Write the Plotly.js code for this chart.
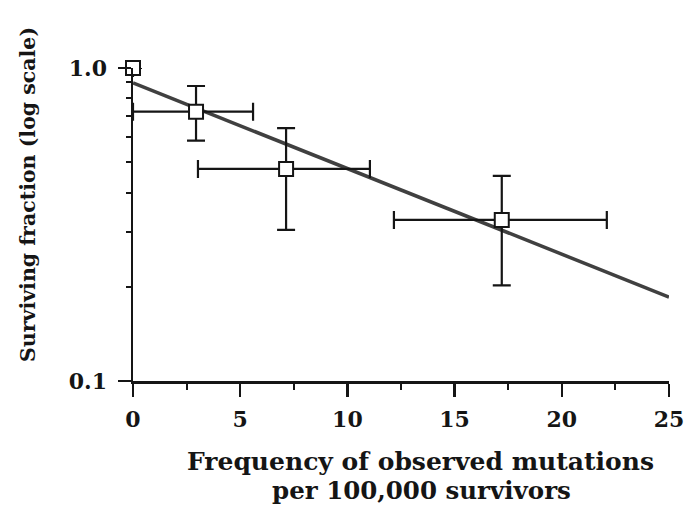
<!DOCTYPE html>
<html>
<head>
<meta charset="utf-8">
<script src="https://cdn.plot.ly/plotly-3.0.1.min.js"></script>
<style>html,body{margin:0;padding:0;background:#fff;}#chart{width:688px;height:515px;}</style>
</head>
<body>
<div id="chart"></div>
<script>
// Data
const mutationFreq   = [0, 2.94, 7.14, 17.2];
const survFraction   = [1.0, 0.725, 0.476, 0.327];
const xErrPlus       = [0, 2.66, 3.91, 4.9];
const xErrMinus      = [0, 2.94, 4.11, 5.03];
const yErrPlus       = [0, 0.151, 0.167, 0.125];
const yErrMinus      = [0, 0.139, 0.172, 0.125];
const fitX           = [0, 25];
const fitY           = [0.896, 0.1855];
const yTickVals      = [0.1, 1.0];
const yTickText      = ['0.1', '1.0'];
const yMinorVals     = [0.2, 0.3, 0.4, 0.5, 0.6, 0.7, 0.8, 0.9];
const xTickVals      = [0, 5, 10, 15, 20, 25];
const xTitleLines    = ['Frequency of observed mutations', 'per 100,000 survivors'];
const yTitle         = 'Surviving fraction (log scale)';

const serif = 'DejaVu Serif, Liberation Serif, serif';
const ink = '#151515';

const traces = [
  {
    x: fitX, y: fitY, mode: 'lines', type: 'scatter',
    line: {color: '#404040', width: 3.5}, hoverinfo: 'skip', cliponaxis: false
  },
  {
    x: mutationFreq, y: survFraction, mode: 'markers', type: 'scatter',
    cliponaxis: false,
    marker: {symbol: 'square', size: 14, color: 'white', line: {color: ink, width: 2}},
    error_x: {type: 'data', symmetric: false, array: xErrPlus, arrayminus: xErrMinus,
              color: ink, thickness: 2.2, width: 9},
    error_y: {type: 'data', symmetric: false, array: yErrPlus, arrayminus: yErrMinus,
              color: ink, thickness: 2.2, width: 9}
  }
];

const layout = {
  width: 688, height: 515,
  margin: {l: 133, r: 19, t: 68, b: 134},
  paper_bgcolor: 'white', plot_bgcolor: 'white',
  showlegend: false,
  font: {family: serif, color: ink},
  xaxis: {
    range: [0, 25], showgrid: false, zeroline: false,
    showline: true, linecolor: ink, linewidth: 2.5,
    ticks: 'outside', ticklen: 13, tickwidth: 2.5, tickcolor: ink,
    tickmode: 'array', tickvals: xTickVals, ticklabelstandoff: 4,
    minor: {tickmode: 'linear', tick0: 0, dtick: 2.5, ticks: 'outside', ticklen: 6, tickwidth: 2, tickcolor: ink},
    tickfont: {family: serif, size: 22, color: ink, weight: 'bold'}
  },
  yaxis: {
    type: 'log', range: [-1, 0], showgrid: false, zeroline: false,
    showline: true, linecolor: ink, linewidth: 2.5,
    ticks: 'outside', ticklen: 13, tickwidth: 2.5, tickcolor: ink,
    tickmode: 'array', tickvals: yTickVals, ticktext: yTickText, ticklabelstandoff: 6,
    minor: {tickmode: 'array', tickvals: yMinorVals, ticks: 'outside', ticklen: 5, tickwidth: 2, tickcolor: ink},
    tickfont: {family: serif, size: 22, color: ink, weight: 'bold'}
  },
  annotations: [
    {text: xTitleLines[0], xref: 'paper', yref: 'paper',
     x: (420 - 133) / 536, y: (381 - 461) / 313, xanchor: 'center', yanchor: 'middle', showarrow: false,
     font: {family: serif, size: 25, color: ink, weight: 'bold'}},
    {text: xTitleLines[1], xref: 'paper', yref: 'paper',
     x: (421 - 133) / 536, y: (381 - 491) / 313, xanchor: 'center', yanchor: 'middle', showarrow: false,
     font: {family: serif, size: 24.5, color: ink, weight: 'bold'}},
    {text: yTitle, xref: 'paper', yref: 'paper', textangle: -90,
     x: (28 - 133) / 536, y: (381 - 195) / 313, xanchor: 'center', yanchor: 'middle', showarrow: false,
     font: {family: serif, size: 20.5, color: ink, weight: 'bold'}}
  ]
};

Plotly.newPlot('chart', traces, layout, {staticPlot: true, displayModeBar: false});
</script>
</body>
</html>
